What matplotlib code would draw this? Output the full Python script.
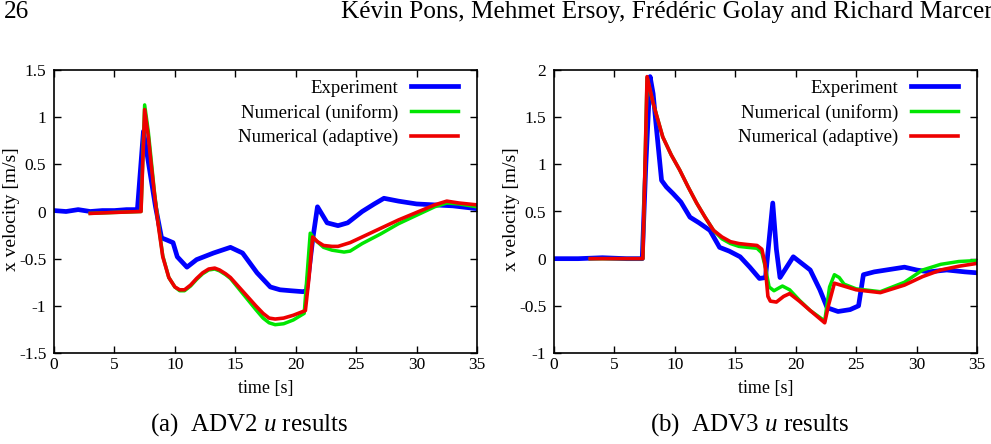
import matplotlib
matplotlib.use("Agg")
import matplotlib.pyplot as plt

plt.rcParams["font.family"] = "Liberation Serif"
plt.rcParams["mathtext.fontset"] = "custom"
plt.rcParams["mathtext.rm"] = "Liberation Serif"
plt.rcParams["mathtext.it"] = "Liberation Serif:italic"

# ADV2 (left panel)
adv2_exp_t = [0, 1, 2, 3, 4, 5, 6, 6.9, 7.4, 7.9, 8.4, 8.9, 9.3, 9.85, 10.2, 11.0, 11.8,
              13.2, 14.6, 15.6, 16.8, 17.9, 18.7, 19.6, 20.6, 20.9, 21.4, 21.8, 22.6,
              23.5, 24.3, 25.5, 26.5, 27.3, 28.5, 30.0, 31.5, 33.0, 35.0]
adv2_exp_v = [0.01, 0.0, 0.02, 0.0, 0.01, 0.01, 0.02, 0.02, 0.85, 0.45, 0.05, -0.28, -0.3,
              -0.33, -0.48, -0.59, -0.51, -0.44, -0.38, -0.44, -0.65, -0.8, -0.83, -0.84,
              -0.85, -0.84, -0.3, 0.05, -0.12, -0.15, -0.12, 0.0, 0.08, 0.14, 0.11, 0.08,
              0.07, 0.06, 0.03]

adv2_uni_t = [3.0, 5.0, 7.2, 7.5, 7.8, 8.0, 8.3, 8.6, 9.0, 9.5, 10.0, 10.4, 10.8, 11.3,
              11.8, 12.3, 12.8, 13.3, 13.7, 14.2, 14.6, 15.3, 16.0, 16.7, 17.3, 17.8, 18.3,
              19.0, 19.8, 20.7, 21.2, 21.6, 22.3, 23.0, 24.0, 24.5, 25.5, 27.0, 28.5, 30.0,
              31.5, 32.5, 33.5, 35.0]
adv2_uni_v = [-0.02, -0.01, 0.0, 1.13, 0.85, 0.6, 0.22, -0.1, -0.47, -0.7, -0.8, -0.84,
              -0.84, -0.79, -0.72, -0.66, -0.62, -0.61, -0.63, -0.67, -0.71, -0.82, -0.93,
              -1.04, -1.13, -1.18, -1.2, -1.19, -1.15, -1.08, -0.23, -0.3, -0.38, -0.41,
              -0.43, -0.42, -0.34, -0.24, -0.13, -0.04, 0.05, 0.09, 0.08, 0.05]

adv2_ada_t = [3.0, 5.0, 7.2, 7.5, 7.8, 8.0, 8.3, 8.6, 9.0, 9.5, 10.0, 10.4, 10.8, 11.3,
              11.8, 12.3, 12.8, 13.3, 13.7, 14.2, 14.6, 15.3, 16.0, 16.7, 17.3, 17.8, 18.3,
              19.0, 19.8, 20.8, 21.1, 21.4, 21.8, 22.3, 23.0, 23.5, 24.5, 25.5, 27.0, 28.5,
              30.0, 31.5, 32.5, 33.5, 35.0]
adv2_ada_v = [-0.02, -0.01, 0.0, 1.08, 0.8, 0.55, 0.2, -0.12, -0.48, -0.7, -0.8, -0.83,
              -0.83, -0.78, -0.71, -0.65, -0.61, -0.6, -0.62, -0.66, -0.7, -0.8, -0.9, -1.0,
              -1.08, -1.13, -1.14, -1.13, -1.1, -1.05, -0.7, -0.27, -0.32, -0.36, -0.37,
              -0.37, -0.33, -0.27, -0.18, -0.09, -0.01, 0.07, 0.11, 0.09, 0.07]

# ADV3 (right panel)
adv3_exp_t = [0, 2, 4, 6, 7.3, 7.6, 7.95, 8.2, 8.5, 8.9, 9.3, 9.85, 10.5, 11.25, 12.0,
              12.9, 13.7, 14.5, 15.4, 16.2, 17.0, 17.5, 17.8, 18.1, 18.4, 18.7, 19.2, 19.8,
              20.5, 21.2, 22.0, 22.6, 23.5, 24.5, 25.2, 25.6, 26.5, 28.0, 29.0, 30.0, 31.0,
              32.5, 34.0, 35.0]
adv3_exp_v = [0.0, 0.0, 0.01, 0.0, 0.0, 1.0, 1.93, 1.75, 1.35, 0.83, 0.76, 0.69, 0.6, 0.44,
              0.38, 0.3, 0.12, 0.08, 0.02, -0.09, -0.21, -0.2, 0.2, 0.59, 0.1, -0.2, -0.1,
              0.02, -0.05, -0.12, -0.33, -0.52, -0.56, -0.54, -0.5, -0.17, -0.14, -0.11,
              -0.09, -0.12, -0.14, -0.12, -0.14, -0.15]

adv3_uni_t = [3.0, 5.0, 7.35, 7.7, 8.2, 9.0, 9.7, 10.4, 11.1, 11.8, 12.5, 13.2, 13.9, 14.6,
              15.3, 16.0, 16.8, 17.2, 17.5, 17.8, 18.2, 18.9, 19.5, 20.3, 21.2, 22.4, 22.8,
              23.2, 23.6, 24.0, 25.0, 27.0, 29.0, 30.5, 32.0, 33.5, 35.0]
adv3_uni_v = [0.0, 0.0, 0.0, 1.92, 1.65, 1.29, 1.1, 0.94, 0.76, 0.59, 0.44, 0.3, 0.21, 0.16,
              0.13, 0.12, 0.11, 0.06, -0.1, -0.3, -0.34, -0.29, -0.33, -0.44, -0.55, -0.66,
              -0.3, -0.17, -0.2, -0.27, -0.32, -0.35, -0.25, -0.12, -0.06, -0.03, -0.02]

adv3_ada_t = [3.0, 5.0, 7.35, 7.7, 8.2, 9.0, 9.7, 10.4, 11.1, 11.8, 12.5, 13.2, 13.9, 14.6,
              15.3, 16.0, 16.8, 17.2, 17.45, 17.7, 17.9, 18.4, 19.0, 19.5, 20.3, 21.2, 22.4,
              22.7, 23.2, 25.0, 27.0, 29.0, 30.5, 32.0, 33.5, 35.0]
adv3_ada_v = [0.0, 0.0, 0.0, 1.93, 1.65, 1.29, 1.1, 0.94, 0.76, 0.59, 0.44, 0.3, 0.23, 0.18,
              0.16, 0.15, 0.14, 0.1, -0.05, -0.4, -0.45, -0.46, -0.4, -0.37, -0.45, -0.55,
              -0.68, -0.5, -0.26, -0.33, -0.36, -0.28, -0.19, -0.12, -0.08, -0.05]

labels = ["Experiment", "Numerical (uniform)", "Numerical (adaptive)"]
colors = ["#0000ff", "#00e600", "#ee0000"]
widths = [3.4, 2.5, 2.6]

panels = [
    dict(exp=(adv2_exp_t, adv2_exp_v), uni=(adv2_uni_t, adv2_uni_v), ada=(adv2_ada_t, adv2_ada_v),
         ylim=(-1.5, 1.5), yticks=[-1.5, -1, -0.5, 0, 0.5, 1, 1.5],
         ylabels=["-1.5", "-1", "-0.5", "0", "0.5", "1", "1.5"],
         caption="(a)  ADV2 $u$ results", left=54),
    dict(exp=(adv3_exp_t, adv3_exp_v), uni=(adv3_uni_t, adv3_uni_v), ada=(adv3_ada_t, adv3_ada_v),
         ylim=(-1, 2), yticks=[-1, -0.5, 0, 0.5, 1, 1.5, 2],
         ylabels=["-1", "-0.5", "0", "0.5", "1", "1.5", "2"],
         caption="(b)  ADV3 $u$ results", left=554),
]

W, H = 991, 444
fig = plt.figure(figsize=(W / 100, H / 100), dpi=100)

fig.text(4 / W, 1 - 12 / H, "26", fontsize=18.2, va="center", ha="left")
fig.text(341 / W, 1 - 12 / H, "Kévin Pons, Mehmet Ersoy, Frédéric Golay and Richard Marcer",
         fontsize=18.2, va="center", ha="left")

for p in panels:
    ax = fig.add_axes([p["left"] / W, 1 - 353 / H, 423 / W, 283 / H])
    for (t, v), lab, c, lw in zip([p["exp"], p["uni"], p["ada"]], labels, colors, widths):
        ax.plot(t, v, color=c, lw=lw, label=lab, solid_joinstyle="round")
    ax.set_xlim(0, 35)
    ax.set_ylim(*p["ylim"])
    ax.set_xticks([0, 5, 10, 15, 20, 25, 30, 35])
    ax.set_yticks(p["yticks"])
    ax.set_yticklabels(p["ylabels"])
    ax.tick_params(direction="in", top=True, right=True, length=5, width=1,
                   labelsize=12.5)
    ax.tick_params(axis="y", pad=5.5)
    ax.tick_params(axis="x", pad=3)
    for s in ax.spines.values():
        s.set_linewidth(1.2)
    ax.set_xlabel("time [s]", fontsize=13)
    ax.xaxis.set_label_coords(0.5, -27 / 283)
    ax.set_ylabel("x velocity [m/s]", fontsize=14, va="center")
    ax.yaxis.set_label_coords(-42 / 423, 0.51)
    ax.legend(loc="upper right", frameon=False, markerfirst=False, fontsize=13.5,
              handlelength=2.55, handletextpad=0.65, labelspacing=0.38,
              borderaxespad=0.0, borderpad=0.3, bbox_to_anchor=(1 - 13 / 423, 1 - 4 / 283))
    cx = (p["left"] + 423 / 2 - 16) / W
    fig.text(cx, 1 - 425 / H, p["caption"], fontsize=18, ha="center", va="center")

fig.savefig("out.png", dpi=100)
